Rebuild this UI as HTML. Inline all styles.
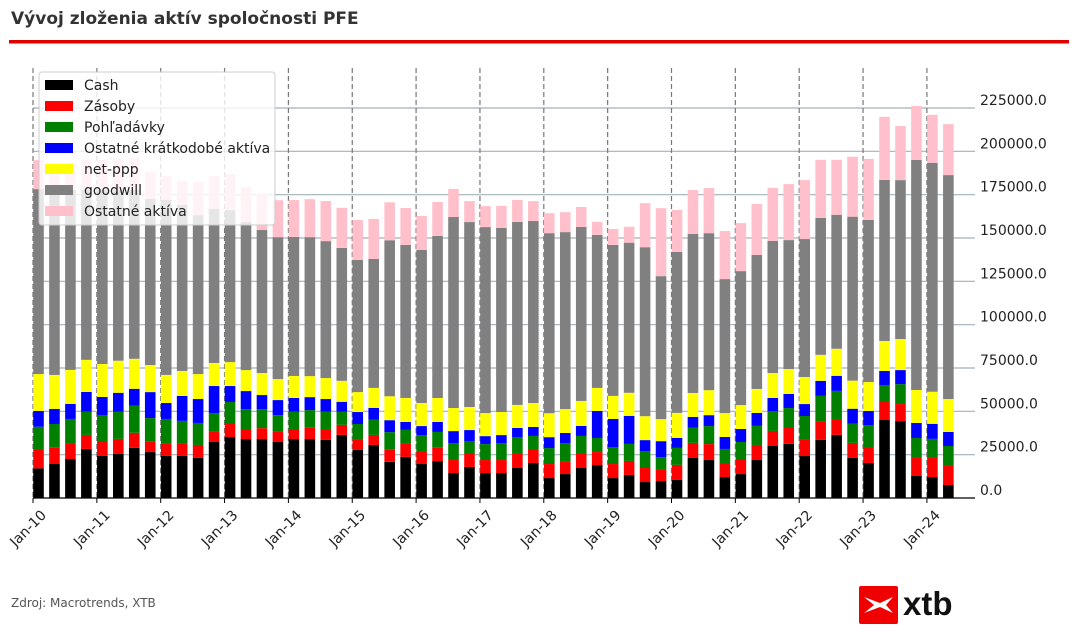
<!DOCTYPE html>
<html><head><meta charset="utf-8">
<style>
body{margin:0;background:#fff;width:1077px;height:635px;overflow:hidden;font-family:"Liberation Sans",sans-serif;}
svg text{font-family:"DejaVu Sans","Liberation Sans",sans-serif;}
</style></head>
<body>
<svg id="chart" width="1077" height="635" xmlns="http://www.w3.org/2000/svg">
<text x="11" y="24" font-size="17" font-weight="bold" fill="#333">Vývoj zloženia aktív spoločnosti PFE</text>
<rect x="9" y="40" width="1060" height="3.5" fill="#e00000"/>
<g id="grid"></g><g id="bars"></g><g id="axes"></g><g id="legend"></g>
<text x="11" y="607" font-size="12" fill="#555">Zdroj: Macrotrends, XTB</text>
<g>
<rect x="859" y="586" width="39" height="38" rx="2" fill="#f00000"/>
<path d="M864 597 L880 603 L893 597 L886 605 L893 613 L880 607 L864 613 L874 605 Z" fill="#fff"/>
<text x="903" y="615" font-size="33" font-weight="bold" fill="#111" style="font-family:'Liberation Sans',sans-serif">xtb</text>
</g>
</svg>
<script>
const years=["Jan-10","Jan-11","Jan-12","Jan-13","Jan-14","Jan-15","Jan-16","Jan-17","Jan-18","Jan-19","Jan-20","Jan-21","Jan-22","Jan-23","Jan-24"];
const yTicks=[0,25000,50000,75000,100000,125000,150000,175000,200000,225000];
const seriesNames=["Cash","Zásoby","Pohľadávky","Ostatné krátkodobé aktíva","net-ppp","goodwill","Ostatné aktíva"];
const cash=[17.1,19.6,22.5,28.3,24.4,25.4,28.9,26.5,24.4,24.4,23.1,32.3,35.2,34.0,34.0,32.3,34.0,34.0,33.5,36.4,27.7,30.6,20.9,23.7,19.6,21.3,14.4,17.9,14.4,14.4,17.3,20.2,11.5,13.8,17.3,19.0,11.5,13.3,9.2,9.8,10.4,23.1,21.9,12.1,13.8,21.9,30.0,31.2,24.2,33.5,36.4,23.1,20.2,45.0,44.4,12.7,12.1,7.5];
const inventory=[10.6,9.4,8.7,8.1,7.9,8.7,8.7,6.3,6.8,6.8,7.5,6.3,7.5,5.8,6.3,6.3,5.8,6.5,6.3,5.8,5.8,5.8,7.3,7.5,7.5,7.7,7.5,7.5,7.5,7.5,8.1,7.5,8.1,7.5,8.1,7.5,8.1,8.1,8.1,6.9,8.7,8.7,9.2,8.1,8.7,8.7,8.7,9.2,9.8,10.4,9.2,8.7,9.2,10.4,9.8,10.4,11.0,11.0];
const receivables=[13.4,13.7,14.4,13.4,15.6,15.8,15.6,13.3,14.4,13.3,12.7,10.4,12.7,11.5,11.0,9.2,10.0,10.2,10.0,7.7,9.2,8.7,9.8,8.1,9.2,9.1,9.8,7.5,9.2,9.8,9.8,8.1,9.2,10.4,10.4,8.1,9.8,9.8,9.8,6.9,9.8,8.7,10.4,8.1,9.8,11.0,11.5,11.5,13.3,15.0,16.2,11.0,12.7,9.8,11.5,11.5,11.0,11.5];
const otherCurrent=[9.1,8.7,8.7,11.4,10.4,10.8,9.8,15.0,9.2,14.4,13.8,15.6,9.2,10.4,8.1,8.7,7.9,7.5,7.3,5.6,6.9,6.9,6.9,4.6,5.2,5.8,6.9,6.3,4.6,4.6,5.2,5.2,6.3,5.8,5.8,15.6,16.2,16.2,6.3,9.2,5.8,6.3,6.3,6.9,7.5,7.5,7.5,8.1,6.9,8.7,8.7,8.7,8.1,8.1,8.1,8.7,8.7,8.1];
const netPpe=[21.3,19.6,19.6,18.5,19.0,18.5,17.3,15.6,16.2,14.4,14.4,13.3,13.8,12.1,12.7,12.1,12.7,12.1,12.1,12.1,11.5,11.5,13.8,13.8,13.3,13.8,13.3,13.3,13.3,13.3,13.3,13.8,13.8,13.8,14.4,13.3,13.3,13.3,13.8,12.7,14.4,13.8,14.4,13.8,13.8,13.8,14.4,14.4,15.6,15.0,15.6,16.2,16.7,17.3,17.9,19.0,18.5,19.0];
const goodwill=[106.7,106.7,103.9,98.1,100.4,98.7,97.5,95.8,101.0,95.8,91.7,88.9,87.7,85.4,82.5,81.9,80.2,80.2,79.0,76.7,76.2,74.4,90.0,88.3,88.3,93.5,110.2,106.7,107.3,106.2,105.6,105.0,103.9,102.1,100.4,88.3,87.1,86.6,97.5,82.5,92.9,91.7,90.6,77.3,77.3,77.3,76.2,74.4,79.6,79.0,77.3,94.6,93.5,92.9,91.7,132.7,132.1,129.2];
const otherAssets=[16.7,15.6,15.6,17.3,17.3,17.9,18.5,15.6,13.8,13.8,19.0,19.0,20.8,20.2,20.8,21.3,21.3,21.9,23.1,23.1,23.1,23.1,21.9,21.3,19.6,19.6,16.2,12.1,12.1,12.7,12.7,11.5,11.5,11.5,11.5,7.5,9.2,9.2,25.4,39.2,24.2,25.4,26.0,27.7,27.7,29.4,30.6,32.3,34.0,33.5,31.7,34.6,35.2,36.4,31.2,31.2,27.7,29.4];
const series=[cash,inventory,receivables,otherCurrent,netPpe,goodwill,otherAssets];
const colors=["#000000","#ff0000","#008000","#0000ff","#ffff00","#808080","#ffc0cb"];
const segNames=["cash","inventory","receivables","other-current","net-ppe","goodwill","other-assets"];
const NS="http://www.w3.org/2000/svg";
const X0=33,YR=63.85,Y0=498,PXK=390/225;
function xs(t){return X0+t*YR;}
function ys(k){return Y0-k*PXK;}
function mk(tag,attrs,parent){const e=document.createElementNS(NS,tag);for(const a in attrs)e.setAttribute(a,attrs[a]);parent.appendChild(e);return e;}
const grid=document.getElementById('grid'),bars=document.getElementById('bars'),axes=document.getElementById('axes'),leg=document.getElementById('legend');
yTicks.forEach(v=>{const y=ys(v/1000);
 if(v>0){const l=mk('line',{x1:33,x2:975,y1:y,y2:y,stroke:'#a3b0bb','stroke-width':1.2},grid);
 
 }
 const t=mk('text',{x:980,y:y-3,'font-size':14,fill:'#222'},axes);t.textContent=v.toFixed(1);
 
 
});
years.forEach((lab,i)=>{const x=xs(i);
 const l=mk('line',{x1:x,x2:x,y1:68,y2:498,stroke:'#777','stroke-width':1.2,'stroke-dasharray':'5,3'},grid);
 
 
 mk('line',{x1:x,x2:x,y1:498,y2:503,stroke:'#000'},axes);
 const t=mk('text',{x:0,y:0,'font-size':14,fill:'#222','text-anchor':'end',transform:`translate(${x+14},${516}) rotate(-45)`},axes);t.textContent=lab;
 
 
});
for(let i=0;i<cash.length;i++){
 const cx=xs(i/4)+5.5;let base=0;
 series.forEach((s,j)=>{const top=base+s[i];
  const r=mk('rect',{x:cx-5.3,width:10.6,y:ys(top),height:ys(base)-ys(top),fill:colors[j]},bars);
  
  
  base=top;});
}
const ax=mk('line',{x1:33,x2:975,y1:498,y2:498,stroke:'#000','stroke-width':1.2},axes);


const box=mk('rect',{x:39,y:72,width:236,height:153,rx:3,fill:'#fff','fill-opacity':0.8,stroke:'#ccc'},leg);


seriesNames.forEach((n,j)=>{const y=85+j*21;
 const sw=mk('rect',{x:45,y:y-5,width:28,height:10,fill:colors[j]},leg);
 
 
 const t=mk('text',{x:84,y:y+5,'font-size':14,fill:'#222'},leg);t.textContent=n;
 
 
});
</script>
</body></html>
